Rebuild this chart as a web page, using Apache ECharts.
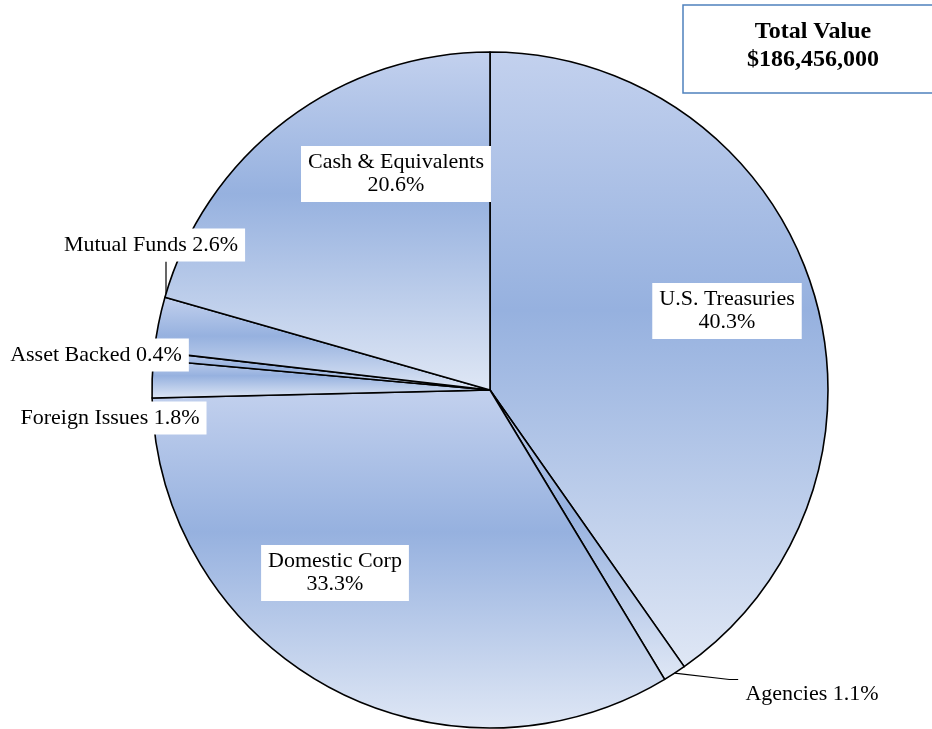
<!DOCTYPE html>
<html>
<head>
<meta charset="utf-8">
<script src="https://cdn.jsdelivr.net/npm/echarts@6/dist/echarts.min.js"></script>
<style>
  html, body { margin: 0; padding: 0; background: #fff; }
  #main { width: 932px; height: 729px; }
</style>
</head>
<body>
<div id="main"></div>
<script type="text/javascript">
    // data (percent of total)
    var categories = ['U.S. Treasuries', 'Agencies', 'Domestic Corp', 'Foreign Issues',
                      'Asset Backed', 'Mutual Funds', 'Cash & Equivalents'];
    var shares = [40.3, 1.1, 33.3, 1.8, 0.4, 2.6, 20.6];
    var totalValue = '$186,456,000';

    // small slices get a one-line label outside the pie
    var oneLine = [false, true, false, true, true, true, false];
    var withLeader = [false, true, false, false, true, true, false];

    var cx = 490, cy = 390, R = 338;
    // label centres, offset from pie centre
    var labelOffsets = [
        [237, -79], [322, 304], [-155, 183], [-380, 28],
        [-394, -35], [-339, -145], [-94, -216]
    ];

    var sliceFill = {
        type: 'linear', x: 0, y: 0, x2: 0, y2: 1,
        colorStops: [
            { offset: 0, color: '#c3d1ee' },
            { offset: 0.42, color: '#96b1df' },
            { offset: 1, color: '#dfe7f5' }
        ]
    };

    var pieData = categories.map(function (name, i) {
        return {
            name: name,
            value: shares[i],
            labelLine: { show: withLeader[i] }
        };
    });

    var myChart = echarts.init(document.getElementById('main'));
    myChart.setOption({
        animation: false,
        graphic: [
            {
                type: 'rect',
                x: 683, y: 5,
                shape: { width: 270, height: 88 },
                style: { fill: '#fff', stroke: '#4f81bd', lineWidth: 1.5 }
            },
            {
                type: 'text',
                x: 813, y: 18,
                style: {
                    text: 'Total Value\n' + totalValue,
                    textAlign: 'center',
                    textVerticalAlign: 'top',
                    font: 'bold 24px "Liberation Serif", "Times New Roman", serif',
                    lineHeight: 28,
                    fill: '#000'
                }
            }
        ],
        series: [{
            type: 'pie',
            center: [cx, cy],
            radius: R,
            startAngle: 90,
            clockwise: true,
            avoidLabelOverlap: false,
            emphasis: { disabled: true },
            itemStyle: {
                color: sliceFill,
                borderColor: '#000',
                borderWidth: 1.6
            },
            label: {
                show: true,
                position: 'outside',
                formatter: function (p) {
                    return p.name + (oneLine[p.dataIndex] ? ' ' : '\n') + p.value.toFixed(1) + '%';
                },
                fontFamily: '"Liberation Serif", "Times New Roman", serif',
                fontSize: 22,
                lineHeight: 23,
                color: '#000',
                backgroundColor: '#fff',
                padding: [5, 7]
            },
            labelLine: {
                lineStyle: { color: '#000', width: 1.2 }
            },
            labelLayout: function (params) {
                var i = params.dataIndex;
                var x = cx + labelOffsets[i][0];
                var y = cy + labelOffsets[i][1];
                var w = params.labelRect.width, h = params.labelRect.height;
                var out = { x: x, y: y, align: 'center', verticalAlign: 'middle' };
                var pts = params.labelLinePoints;
                if (pts && withLeader[i]) {
                    var left = x - w / 2, top = y - h / 2;
                    if (i === 1) {
                        // Agencies: elbow to the top-left corner of the label
                        out.labelLinePoints = [pts[0], [left - 9, top + 2], [left, top + 2]];
                    } else if (i === 4) {
                        // Asset Backed: along the middle ray, into the slice
                        var dx = (pts[0][0] - cx) / R, dy = (pts[0][1] - cy) / R;
                        var right = x + w / 2;
                        var t = (right - cx) / dx;
                        out.labelLinePoints = [
                            [cx + dx * R * 0.55, cy + dy * R * 0.55],
                            [cx + dx * t, cy + dy * t],
                            [right, cy + dy * t]
                        ];
                    } else if (i === 5) {
                        // Mutual Funds: straight down to the rim
                        var px = x + 15;
                        var py = cy - Math.sqrt(R * R - (px - cx) * (px - cx));
                        out.labelLinePoints = [[px, py], [px, (py + top + h) / 2], [px, top + h]];
                    }
                }
                return out;
            },
            data: pieData
        }]
    });
</script>
</body>
</html>
